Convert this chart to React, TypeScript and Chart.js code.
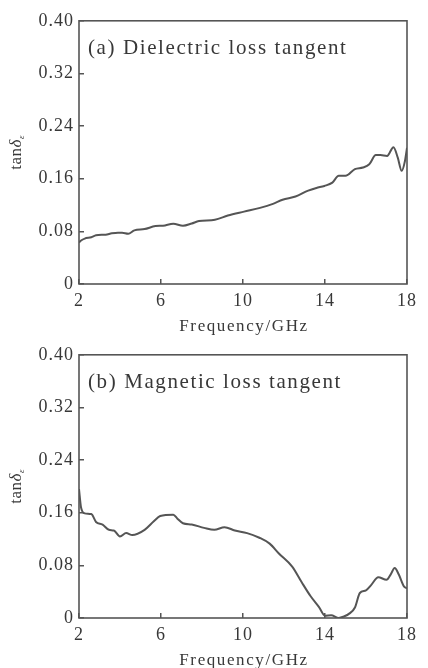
import { useEffect, useRef } from "react";
import { Chart, registerables } from "chart.js";

Chart.register(...registerables);

// ---- data ----
const freqA = [2.0, 2.1, 2.28, 2.6, 2.83, 3.3, 3.6, 3.9, 4.1, 4.4, 4.7, 5.2, 5.73, 6.1, 6.6, 7.07, 7.5, 7.85, 8.63, 9.26, 10.05, 10.83, 11.46, 11.93, 12.56, 13.18, 13.58, 13.97, 14.36, 14.67, 15.0, 15.46, 15.85, 16.16, 16.48, 16.7, 17.03, 17.34, 17.55, 17.74, 17.9, 18.0];
const tanA = [0.063, 0.066, 0.069, 0.071, 0.074, 0.075, 0.077, 0.078, 0.078, 0.0765, 0.0815, 0.0835, 0.088, 0.0886, 0.0916, 0.0886, 0.092, 0.0956, 0.0976, 0.104, 0.11, 0.1157, 0.1218, 0.128, 0.133, 0.142, 0.146, 0.149, 0.154, 0.1645, 0.1645, 0.1746, 0.177, 0.182, 0.196, 0.196, 0.1947, 0.208, 0.192, 0.172, 0.187, 0.207];

const freqB = [2.0, 2.1, 2.28, 2.6, 2.83, 3.15, 3.46, 3.7, 4.0, 4.3, 4.6, 5.2, 5.65, 5.96, 6.6, 6.8, 7.07, 7.5, 8.1, 8.6, 9.1, 9.6, 10.2, 10.8, 11.3, 11.75, 12.4, 12.85, 13.3, 13.7, 14.0, 14.3, 14.67, 14.9, 15.2, 15.46, 15.7, 16.0, 16.25, 16.6, 17.0, 17.2, 17.4, 17.6, 17.85, 18.0];
const tanB = [0.196, 0.168, 0.159, 0.158, 0.146, 0.142, 0.134, 0.133, 0.124, 0.129, 0.126, 0.134, 0.147, 0.155, 0.157, 0.151, 0.144, 0.142, 0.137, 0.134, 0.138, 0.133, 0.129, 0.122, 0.113, 0.098, 0.078, 0.055, 0.033, 0.017, 0.0035, 0.004, 0.0, 0.002, 0.007, 0.016, 0.038, 0.042, 0.05, 0.062, 0.058, 0.066, 0.076, 0.066, 0.048, 0.045];

const xTicks = [2, 6, 10, 14, 18];
const yTicks = [0, 0.08, 0.16, 0.24, 0.32, 0.4];
const xMin = 2;
const xMax = 18;
const yMin = 0;
const yMax = 0.4;

const titleA = "(a) Dielectric loss tangent";
const titleB = "(b) Magnetic loss tangent";
const xTitle = "Frequency/GHz";
const yTitleMain = "tan";
const yTitleGreek = "δ";
const yTitleSub = "ε";

const SERIF = '"Liberation Serif", "Times New Roman", serif';
const INK = "#383838";
const LINE = "#555555";

function decoPlugin(title: string) {
  return {
    id: "deco",
    beforeLayout(chart: any) {
      chart.ctx.letterSpacing = "1px";
    },
    beforeDraw(chart: any) {
      chart.ctx.letterSpacing = "1px";
    },
    afterDraw(chart: any) {
      const ctx = chart.ctx as CanvasRenderingContext2D;
      const a = chart.chartArea;
      ctx.save();
      // frame
      ctx.strokeStyle = LINE;
      ctx.lineWidth = 1.6;
      ctx.strokeRect(a.left, a.top, a.right - a.left, a.bottom - a.top);
      // panel title
      ctx.fillStyle = INK;
      (ctx as any).letterSpacing = "1.6px";
      ctx.font = `21px ${SERIF}`;
      ctx.textAlign = "left";
      ctx.textBaseline = "alphabetic";
      ctx.fillText(title, a.left + 9, a.top + 33);
      // x title
      ctx.font = `17px ${SERIF}`;
      (ctx as any).letterSpacing = "1.6px";
      ctx.textAlign = "center";
      ctx.fillText(xTitle, (a.left + a.right) / 2 + 1, a.bottom + 47);
      // y title (rotated)
      (ctx as any).letterSpacing = "0.5px";
      ctx.translate(21, (a.top + a.bottom) / 2);
      ctx.rotate(-Math.PI / 2);
      ctx.textAlign = "left";
      ctx.font = `17px ${SERIF}`;
      const w1 = ctx.measureText(yTitleMain).width;
      ctx.font = `italic 17px ${SERIF}`;
      const w2 = ctx.measureText(yTitleGreek).width;
      ctx.font = `italic 9px ${SERIF}`;
      const w3 = ctx.measureText(yTitleSub).width;
      let x0 = -(w1 + w2 + w3) / 2;
      ctx.font = `17px ${SERIF}`;
      ctx.fillText(yTitleMain, x0, 0);
      x0 += w1;
      ctx.font = `italic 17px ${SERIF}`;
      ctx.fillText(yTitleGreek, x0, 0);
      x0 += w2;
      ctx.font = `italic 9px ${SERIF}`;
      ctx.fillText(yTitleSub, x0, 3);
      ctx.restore();
    },
  };
}

function makeConfig(xs: number[], ys: number[], title: string, canvasH: number): any {
  return {
    type: "line",
    data: {
      datasets: [
        {
          data: xs.map((x, i) => ({ x, y: ys[i] })),
          borderColor: LINE,
          borderWidth: 2,
          pointRadius: 0,
          fill: false,
          cubicInterpolationMode: "monotone",
        },
      ],
    },
    options: {
      responsive: false,
      animation: false,
      events: [],
      layout: { padding: { top: 19, right: 9, left: 0, bottom: canvasH - 284 - 50 } },
      plugins: { legend: { display: false }, tooltip: { enabled: false } },
      scales: {
        x: {
          type: "linear",
          min: xMin,
          max: xMax,
          afterBuildTicks: (s: any) => {
            s.ticks = xTicks.map((v) => ({ value: v }));
          },
          afterFit: (s: any) => {
            s.height = 50;
          },
          border: { display: false },
          grid: {
            drawOnChartArea: false,
            drawTicks: true,
            tickLength: -5,
            color: LINE,
            lineWidth: 1.5,
          },
          ticks: {
            padding: 11,
            maxRotation: 0,
            autoSkip: false,
            color: INK,
            font: { family: SERIF, size: 18 },
            callback: (v: any) => String(v),
          },
        },
        y: {
          type: "linear",
          min: yMin,
          max: yMax,
          afterBuildTicks: (s: any) => {
            s.ticks = yTicks.map((v) => ({ value: v }));
          },
          afterFit: (s: any) => {
            s.width = 79;
          },
          border: { display: false },
          grid: {
            drawOnChartArea: false,
            drawTicks: true,
            tickLength: -5,
            color: LINE,
            lineWidth: 1.5,
          },
          ticks: {
            padding: 10,
            color: INK,
            font: { family: SERIF, size: 18 },
            callback: (v: any) => (v === 0 ? "0" : Number(v).toFixed(2)),
          },
        },
      },
    },
    plugins: [decoPlugin(title)],
  };
}

function Panel({ xs, ys, title, top, h }: { xs: number[]; ys: number[]; title: string; top: number; h: number }) {
  const ref = useRef<HTMLCanvasElement | null>(null);
  useEffect(() => {
    if (!ref.current) return;
    const chart = new Chart(ref.current, makeConfig(xs, ys, title, h));
    return () => chart.destroy();
  }, [xs, ys, title, h]);
  return (
    <canvas
      ref={ref}
      width={428}
      height={h}
      style={{ position: "absolute", left: 0, top, width: 428, height: h, display: "block" }}
    />
  );
}

export default function App() {
  return (
    <div
      style={{
        position: "absolute",
        left: 0,
        top: 0,
        width: 428,
        height: 668,
        overflow: "hidden",
        background: "#ffffff",
      }}
    >
      <Panel xs={freqB} ys={tanB} title={titleB} top={334} h={334} />
      <Panel xs={freqA} ys={tanA} title={titleA} top={0} h={340} />
    </div>
  );
}
